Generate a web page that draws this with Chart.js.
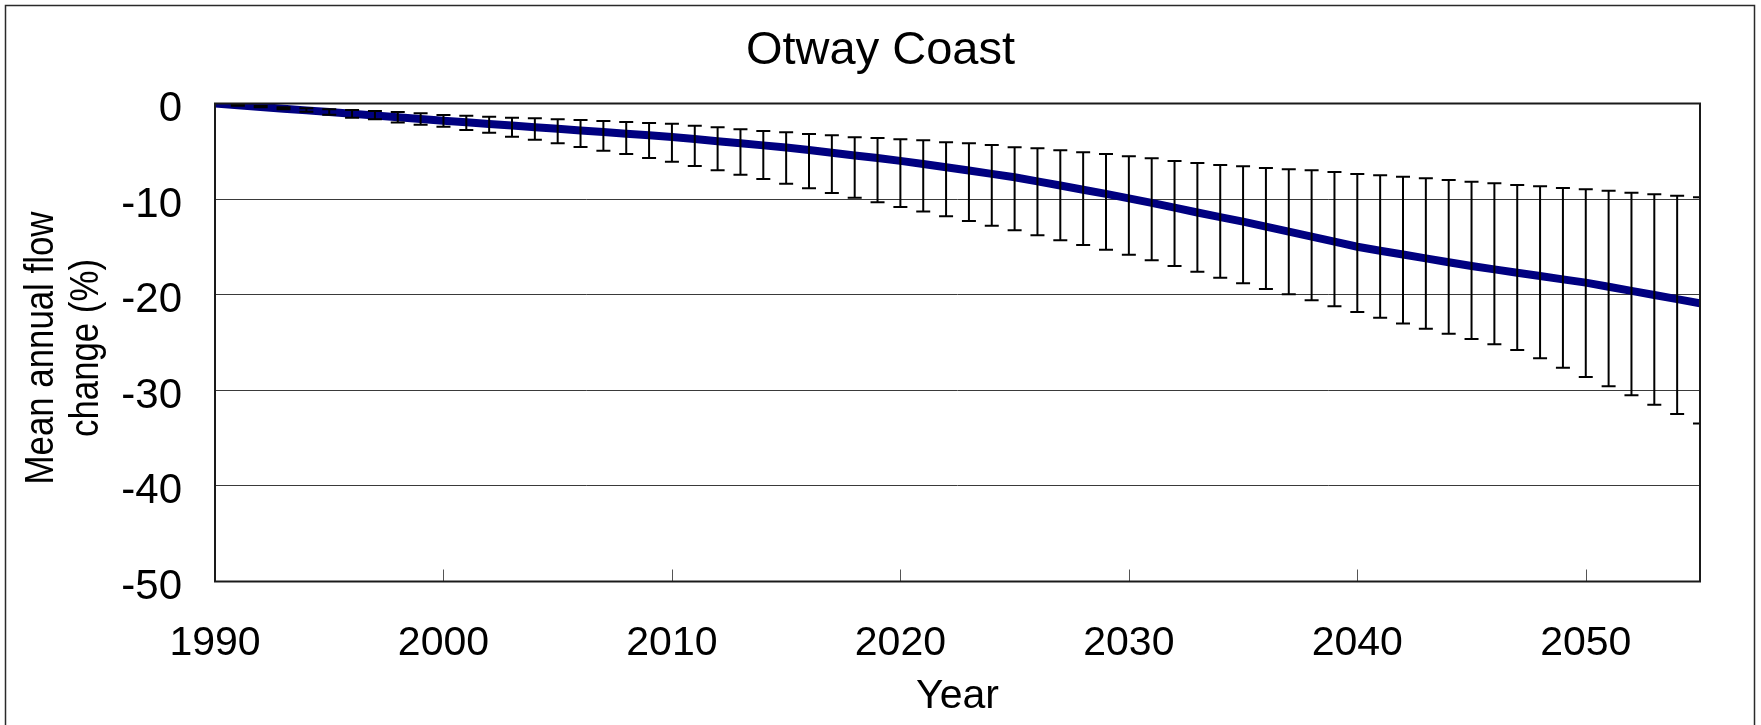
<!DOCTYPE html>
<html>
<head>
<meta charset="utf-8">
<title>Otway Coast</title>
<script src="https://cdn.jsdelivr.net/npm/chart.js@4.4.1/dist/chart.umd.min.js"></script>
<style>
  html, body { margin: 0; padding: 0; background: #ffffff; }
  #wrap { width: 1761px; height: 725px; position: relative; }
  canvas { display: block; }
</style>
</head>
<body>
<div id="wrap"><canvas id="flowChart" width="1761" height="725"></canvas></div>
<script>
// Years of the projection
const years = [
  1990, 1991, 1992, 1993, 1994, 1995, 1996, 1997, 1998, 1999,
  2000, 2001, 2002, 2003, 2004, 2005, 2006, 2007, 2008, 2009,
  2010, 2011, 2012, 2013, 2014, 2015, 2016, 2017, 2018, 2019,
  2020, 2021, 2022, 2023, 2024, 2025, 2026, 2027, 2028, 2029,
  2030, 2031, 2032, 2033, 2034, 2035, 2036, 2037, 2038, 2039,
  2040, 2041, 2042, 2043, 2044, 2045, 2046, 2047, 2048, 2049,
  2050, 2051, 2052, 2053, 2054, 2055
];

// Mean annual flow change (%)
const meanChange = [
  0.00, -0.18, -0.36, -0.54, -0.72, -0.90, -1.08, -1.26, -1.44, -1.62,
  -1.80, -1.97, -2.14, -2.31, -2.48, -2.65, -2.82, -2.99, -3.16, -3.33,
  -3.50, -3.72, -3.94, -4.16, -4.38, -4.60, -4.87, -5.15, -5.43, -5.71,
  -6.00, -6.33, -6.67, -7.01, -7.36, -7.72, -8.15, -8.58, -9.02, -9.46,
  -9.92, -10.40, -10.90, -11.40, -11.88, -12.36, -12.88, -13.40, -13.92, -14.45,
  -14.98, -15.40, -15.80, -16.20, -16.60, -17.00, -17.35, -17.70, -18.05, -18.40,
  -18.74, -19.17, -19.60, -20.03, -20.46, -20.90
];

// Upper end of the range across scenarios (%)
const rangeHigh = [
  null, -0.16, -0.26, -0.40, -0.50, -0.61, -0.68, -0.78, -0.89, -1.03,
  -1.20, -1.27, -1.38, -1.48, -1.55, -1.66, -1.73, -1.83, -1.94, -2.04,
  -2.11, -2.32, -2.49, -2.70, -2.88, -3.02, -3.19, -3.33, -3.54, -3.61,
  -3.75, -3.85, -4.06, -4.17, -4.34, -4.58, -4.69, -4.90, -5.11, -5.28,
  -5.52, -5.72, -6.01, -6.22, -6.43, -6.57, -6.75, -6.89, -6.99, -7.17,
  -7.37, -7.51, -7.65, -7.83, -8.00, -8.18, -8.35, -8.53, -8.66, -8.84,
  -8.98, -9.12, -9.33, -9.50, -9.64, -9.81
];

// Lower end of the range across scenarios (%)
const rangeLow = [
  null, -0.23, -0.40, -0.61, -0.85, -1.17, -1.48, -1.66, -2.00, -2.21,
  -2.42, -2.77, -3.05, -3.47, -3.78, -4.17, -4.55, -4.93, -5.28, -5.70,
  -6.09, -6.54, -6.99, -7.44, -7.90, -8.39, -8.87, -9.36, -9.85, -10.34,
  -10.83, -11.31, -11.80, -12.29, -12.78, -13.27, -13.79, -14.31, -14.80, -15.29,
  -15.81, -16.40, -17.00, -17.59, -18.22, -18.81, -19.40, -19.96, -20.59, -21.22,
  -21.81, -22.41, -23.00, -23.56, -24.08, -24.63, -25.19, -25.78, -26.66, -27.63,
  -28.61, -29.58, -30.53, -31.50, -32.48, -33.46
];

// Axis tick values and titles
const xTicks = [1990, 2000, 2010, 2020, 2030, 2040, 2050];
const yTicks = [0, -10, -20, -30, -40, -50];
const yTitleLines = ['Mean annual flow', 'change (%)'];

const FONT = "'Liberation Sans', Arial, Helvetica, sans-serif";

// Error bars, plot frame, inward tick marks and the rotated value-axis title
const decorations = {
  id: 'decorations',
  beforeDraw(chart) {
    const { ctx } = chart;
    ctx.save();
    ctx.strokeStyle = '#2a2a2a';
    ctx.lineWidth = 1.5;
    ctx.strokeRect(5.5, 5.5, 1749, 800);
    ctx.restore();
  },
  afterDraw(chart) {
    const { ctx } = chart;
    // two-line title beside the value axis, set slightly condensed
    ctx.save();
    ctx.translate(0, 348);
    ctx.rotate(-Math.PI / 2);
    ctx.scale(0.87, 1);
    ctx.fillStyle = '#000000';
    ctx.font = '40px ' + FONT;
    ctx.textAlign = 'center';
    ctx.textBaseline = 'middle';
    ctx.fillText(yTitleLines[0], 0, 42);
    ctx.fillText(yTitleLines[1], 0, 87);
    ctx.restore();
  },
  afterDatasetsDraw(chart) {
    const { ctx, chartArea: a, scales: { x, y } } = chart;
    ctx.save();
    ctx.beginPath();
    ctx.rect(a.left, a.top - 2, a.right - a.left, a.bottom - a.top + 4);
    ctx.clip();
    ctx.strokeStyle = '#000000';
    ctx.lineWidth = 2;
    const cap = 7;
    years.forEach((yr, i) => {
      if (rangeHigh[i] == null) return;
      const px = x.getPixelForValue(yr);
      const yt = y.getPixelForValue(rangeHigh[i]);
      const yb = y.getPixelForValue(rangeLow[i]);
      ctx.beginPath();
      ctx.moveTo(px, yt); ctx.lineTo(px, yb);
      ctx.moveTo(px - cap, yt); ctx.lineTo(px + cap, yt);
      ctx.moveTo(px - cap, yb); ctx.lineTo(px + cap, yb);
      ctx.stroke();
    });
    ctx.restore();

    ctx.save();
    // inward tick marks on the year axis
    ctx.strokeStyle = '#555555';
    ctx.lineWidth = 1;
    xTicks.forEach(v => {
      const px = Math.round(x.getPixelForValue(v)) + 0.5;
      ctx.beginPath();
      ctx.moveTo(px, a.bottom);
      ctx.lineTo(px, a.bottom - 12);
      ctx.stroke();
    });
    // plot frame
    ctx.strokeStyle = '#1a1a1a';
    ctx.lineWidth = 2;
    ctx.strokeRect(a.left, a.top, a.right - a.left, a.bottom - a.top);
    ctx.restore();
  }
};

new Chart(document.getElementById('flowChart'), {
  type: 'line',
  data: {
    datasets: [{
      label: 'Mean annual flow change',
      data: years.map((yr, i) => ({ x: yr, y: meanChange[i] })),
      borderColor: '#000080',
      borderWidth: 8,
      pointRadius: 0,
      tension: 0,
      fill: false
    }]
  },
  options: {
    responsive: false,
    animation: false,
    devicePixelRatio: 1,
    layout: { padding: { top: 6, left: 0, right: 0, bottom: 0 } },
    plugins: {
      legend: { display: false },
      tooltip: { enabled: false },
      title: {
        display: true,
        text: 'Otway Coast',
        color: '#000000',
        font: { family: FONT, size: 47, weight: 'normal' },
        padding: { top: 17, bottom: 24.1 }
      }
    },
    scales: {
      x: {
        type: 'linear',
        position: 'bottom',
        min: 1990,
        max: 2055,
        afterFit(scale) { scale.height = 143.5; },
        afterBuildTicks(scale) { scale.ticks = xTicks.map(v => ({ value: v })); },
        grid: { display: false, drawTicks: false },
        border: { display: false },
        ticks: {
          padding: 37.4,
          color: '#000000',
          font: { family: FONT, size: 41 },
          maxRotation: 0,
          autoSkip: false,
          callback: v => String(v)
        },
        title: {
          display: true,
          text: 'Year',
          color: '#000000',
          font: { family: FONT, size: 41 },
          padding: { top: 0, bottom: 4 }
        }
      },
      y: {
        type: 'linear',
        position: 'left',
        min: -50,
        max: 0,
        afterFit(scale) { scale.width = 215; },
        afterBuildTicks(scale) { scale.ticks = yTicks.map(v => ({ value: v })); },
        grid: { color: '#3a3a3a', lineWidth: 1, drawTicks: false },
        border: { display: false },
        ticks: {
          padding: 33,
          labelOffset: 6,
          color: '#000000',
          font: { family: FONT, size: 42 },
          callback: v => String(v)
        },
        title: { display: false }
      },
      yRight: {
        type: 'linear',
        position: 'right',
        display: true,
        afterFit(scale) { scale.width = 61; },
        grid: { display: false, drawTicks: false },
        border: { display: false },
        ticks: { display: false }
      }
    }
  },
  plugins: [decorations]
});
</script>
</body>
</html>
